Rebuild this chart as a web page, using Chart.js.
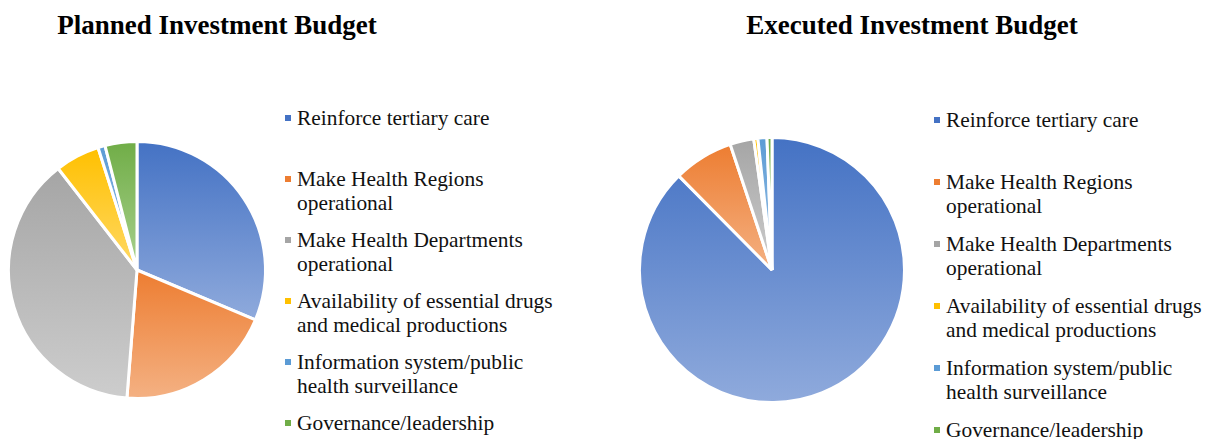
<!DOCTYPE html>
<html>
<head>
<meta charset="utf-8">
<script src="https://cdn.jsdelivr.net/npm/chart.js@4.4.1/dist/chart.umd.min.js"></script>
<style>
  body { margin: 0; background: #fff; width: 1208px; height: 439px; overflow: hidden; position: relative; font-family: "Liberation Serif", "Times New Roman", serif; }
  .title { position: absolute; top: 10px; line-height: 30px; font-weight: bold; font-size: 27px; color: #000; white-space: nowrap; text-align: center; }
  .pie { position: absolute; }
  .legend { position: absolute; font-size: 21.4px; color: #111; }
  .legend .item { position: relative; padding-left: 12px; line-height: 24px; white-space: nowrap; }
  .legend .mark { position: absolute; left: 0; top: 9px; width: 6px; height: 6px; }
</style>
</head>
<body>
<div class="title" style="left:0;width:434px">Planned Investment Budget</div>
<div class="title" style="left:618px;width:588px">Executed Investment Budget</div>
<canvas id="planned" class="pie"></canvas>
<canvas id="executed" class="pie"></canvas>
<div id="legend-planned" class="legend" style="left:285px;top:106px"></div>
<div id="legend-executed" class="legend" style="left:934px;top:108px"></div>
<script>
const categories = [
    ["Reinforce tertiary care"],
    ["Make Health Regions", "operational"],
    ["Make Health Departments", "operational"],
    ["Availability of essential drugs", "and medical productions"],
    ["Information system/public", "health surveillance"],
    ["Governance/leadership"]
];
const plannedValues = [31.3, 19.9, 38.2, 5.6, 0.9, 4.0];
const executedValues = [87.4, 7.3, 2.9, 0.5, 1.1, 0.6];

const topColors = ["#4472C4", "#ED7D31", "#A5A5A5", "#FFC000", "#5B9BD5", "#70AD47"];
const bottomColors = ["#8FAADC", "#F4B183", "#CDCDCD", "#FFD966", "#9DC3E6", "#A9D18E"];

// each slice gets its own top-to-bottom gradient, like the office chart
function hasAngle(s, e, target) {
    for (let k = -2; k <= 2; k++) {
        const a = target + k * 2 * Math.PI;
        if (a >= s && a <= e) return true;
    }
    return false;
}
const sliceGradient = {
    id: 'sliceGradient',
    beforeDatasetsDraw(chart) {
        const ctx = chart.ctx;
        chart.getDatasetMeta(0).data.forEach((arc, i) => {
            const { x, y, startAngle, endAngle, outerRadius } = arc;
            let top = y, bottom = y;
            [startAngle, endAngle].forEach(a => {
                const py = y + Math.sin(a) * outerRadius;
                top = Math.min(top, py);
                bottom = Math.max(bottom, py);
            });
            if (hasAngle(startAngle, endAngle, -Math.PI / 2)) top = y - outerRadius;
            if (hasAngle(startAngle, endAngle, Math.PI / 2)) bottom = y + outerRadius;
            if (bottom - top < 1) bottom = top + 1;
            const g = ctx.createLinearGradient(0, top, 0, bottom);
            g.addColorStop(0, topColors[i]);
            g.addColorStop(1, bottomColors[i]);
            arc.options.backgroundColor = g;
        });
    }
};

function makePie(id, values, cx, cy, r) {
    const el = document.getElementById(id);
    const size = Math.ceil(2 * r + 12);
    el.width = size; el.height = size;
    el.style.width = size + 'px'; el.style.height = size + 'px';
    el.style.left = (cx - size / 2) + 'px';
    el.style.top = (cy - size / 2) + 'px';
    return new Chart(el, {
        type: 'pie',
        data: {
            labels: categories.map(c => c.join(' ')),
            datasets: [{
                data: values,
                backgroundColor: topColors,
                borderColor: '#ffffff',
                borderWidth: 3
            }]
        },
        options: {
            responsive: false,
            animation: false,
            radius: r + 1.5,
            layout: { padding: 0 },
            plugins: { legend: { display: false }, tooltip: { enabled: false } }
        },
        plugins: [sliceGradient]
    });
}

function makeLegend(id, step) {
    const box = document.getElementById(id);
    box.innerHTML = categories.map((lines, i) =>
        `<div class="item" style="height:${step}px"><span class="mark" style="background:${topColors[i]}"></span>${lines.join('<br>')}</div>`
    ).join('');
}

makePie('planned', plannedValues, 136.5, 269.5, 127);
makePie('executed', executedValues, 771.5, 270, 131);
makeLegend('legend-planned', 61);
makeLegend('legend-executed', 62);
</script>
</body>
</html>
